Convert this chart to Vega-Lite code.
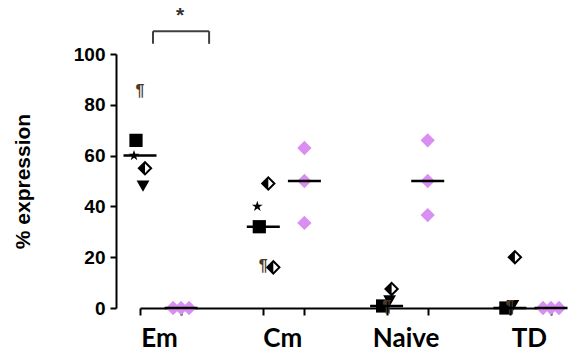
{
  "$schema": "https://vega.github.io/schema/vega-lite/v6.json",
  "width": 462,
  "height": 254,
  "autosize": {"type": "none"},
  "padding": {"left": 116, "top": 54, "right": 0, "bottom": 52},
  "background": "white",
  "config": {
    "view": {"stroke": null},
    "axis": {"domainColor": "black", "tickColor": "black", "domainWidth": 2, "tickWidth": 2, "labelColor": "black", "titleColor": "black", "grid": false}
  },
  "data": {
    "values": [
      {"group": "Em", "col": "Em|b", "donor": "A", "value": 85},
      {"group": "Em", "col": "Em|b", "donor": "B", "value": 66},
      {"group": "Em", "col": "Em|b", "donor": "C", "value": 60},
      {"group": "Em", "col": "Em|b", "donor": "D", "value": 55},
      {"group": "Em", "col": "Em|b", "donor": "E", "value": 48},
      {"group": "Em", "col": "Em|p", "donor": "P1", "value": 0},
      {"group": "Em", "col": "Em|p", "donor": "P2", "value": 0},
      {"group": "Em", "col": "Em|p", "donor": "P3", "value": 0},
      {"group": "Cm", "col": "Cm|b", "donor": "A", "value": 16},
      {"group": "Cm", "col": "Cm|b", "donor": "B", "value": 32},
      {"group": "Cm", "col": "Cm|b", "donor": "C", "value": 40},
      {"group": "Cm", "col": "Cm|b", "donor": "D", "value": 49},
      {"group": "Cm", "col": "Cm|b", "donor": "F", "value": 16},
      {"group": "Cm", "col": "Cm|p", "donor": "P1", "value": 63},
      {"group": "Cm", "col": "Cm|p", "donor": "P2", "value": 50},
      {"group": "Cm", "col": "Cm|p", "donor": "P3", "value": 33.5},
      {"group": "Naive", "col": "Naive|b", "donor": "A", "value": 0},
      {"group": "Naive", "col": "Naive|b", "donor": "B", "value": 0.8},
      {"group": "Naive", "col": "Naive|b", "donor": "C", "value": 0.5},
      {"group": "Naive", "col": "Naive|b", "donor": "D", "value": 7.5},
      {"group": "Naive", "col": "Naive|b", "donor": "E", "value": 2.8},
      {"group": "Naive", "col": "Naive|p", "donor": "P1", "value": 66},
      {"group": "Naive", "col": "Naive|p", "donor": "P2", "value": 50},
      {"group": "Naive", "col": "Naive|p", "donor": "P3", "value": 36.6},
      {"group": "TD", "col": "TD|b", "donor": "A", "value": 0},
      {"group": "TD", "col": "TD|b", "donor": "B", "value": 0},
      {"group": "TD", "col": "TD|b", "donor": "C", "value": 0},
      {"group": "TD", "col": "TD|b", "donor": "D", "value": 20},
      {"group": "TD", "col": "TD|b", "donor": "E", "value": 1},
      {"group": "TD", "col": "TD|p", "donor": "P1", "value": 0},
      {"group": "TD", "col": "TD|p", "donor": "P2", "value": 0},
      {"group": "TD", "col": "TD|p", "donor": "P3", "value": 0}
    ]
  },
  "encoding": {
    "x": {
      "field": "col", "type": "nominal", "title": null,
      "scale": {"type": "point", "padding": 0, "domain": ["Em|b", "Em|p", "gap1", "Cm|b", "Cm|p", "gap2", "Naive|b", "Naive|p", "gap3", "TD|b", "TD|p"], "range": [24, 435]},
      "axis": {
        "labelAngle": 0, "tickSize": 7, "labelFont": "Lato", "labelFontWeight": "bold", "labelFontSize": 26, "labelPadding": 10, "labelOverlap": false, "labelOffset": 19,
        "labelExpr": "indexof(datum.value, '|b') > 0 ? split(datum.value, '|')[0] : ''",
        "tickOpacity": {"condition": {"test": "indexof(datum.value, 'gap') == 0", "value": 0}, "value": 1}
      }
    },
    "y": {
      "field": "value", "type": "quantitative", "title": "% expression",
      "scale": {"domain": [0, 100], "nice": false, "zero": false},
      "axis": {"values": [0, 20, 40, 60, 80, 100], "tickSize": 6, "labelFont": "Liberation Sans", "labelFontWeight": "bold", "labelFontSize": 19, "labelPadding": 5, "titleFont": "Liberation Sans", "titleFontWeight": "bold", "titleFontSize": 21, "titlePadding": 40}
    }
  },
  "layer": [
    {
      "data": {"values": [{"col": "Em|b", "col2": "Em|p", "value": 109, "value2": 104}]},
      "mark": {"type": "rule", "color": "#404040", "strokeWidth": 2, "xOffset": 13, "x2Offset": 28},
      "encoding": {"x2": {"field": "col2"}}
    },
    {
      "data": {"values": [{"col": "Em|b", "col2": "Em|p", "value": 109, "value2": 104}]},
      "mark": {"type": "rule", "color": "#404040", "strokeWidth": 2, "xOffset": 13},
      "encoding": {"y2": {"field": "value2"}}
    },
    {
      "data": {"values": [{"col": "Em|p", "col2": "Em|p", "value": 109, "value2": 104}]},
      "mark": {"type": "rule", "color": "#404040", "strokeWidth": 2, "xOffset": 28},
      "encoding": {"y2": {"field": "value2"}}
    },
    {
      "data": {"values": [{"col": "Em|p", "value": 115, "mark": "*"}]},
      "mark": {"type": "text", "font": "Liberation Sans", "fontWeight": "bold", "fontSize": 21, "color": "#333333", "baseline": "middle", "dx": -1},
      "encoding": {"text": {"field": "mark"}}
    },
    {
      "transform": [{"filter": "indexof(datum.donor, 'P') == 0 && datum.value > 0"}],
      "mark": {"type": "point", "shape": "diamond", "filled": true, "size": 205, "color": "#D98EF2", "opacity": 1}
    },
    {
      "transform": [{"filter": "datum.donor == 'P1' && datum.value == 0"}],
      "mark": {"type": "point", "shape": "diamond", "filled": true, "size": 205, "color": "#D98EF2", "opacity": 1, "xOffset": -8}
    },
    {
      "transform": [{"filter": "datum.donor == 'P2' && datum.value == 0"}],
      "mark": {"type": "point", "shape": "diamond", "filled": true, "size": 205, "color": "#D98EF2", "opacity": 1}
    },
    {
      "transform": [{"filter": "datum.donor == 'P3' && datum.value == 0"}],
      "mark": {"type": "point", "shape": "diamond", "filled": true, "size": 205, "color": "#D98EF2", "opacity": 1, "xOffset": 8}
    },
    {
      "transform": [{"filter": "datum.donor == 'B'"}],
      "mark": {"type": "point", "shape": "square", "filled": true, "size": 175, "color": "black", "opacity": 1, "xOffset": -4}
    },
    {
      "transform": [{"filter": "datum.donor == 'C'"}],
      "mark": {"type": "point", "shape": "M0,-1L0.2245,-0.309L0.951,-0.309L0.363,0.118L0.588,0.809L0,0.382L-0.588,0.809L-0.363,0.118L-0.951,-0.309L-0.2245,-0.309Z", "filled": true, "size": 130, "color": "black", "opacity": 1, "xOffset": -6}
    },
    {
      "transform": [{"filter": "datum.donor == 'E'"}],
      "mark": {"type": "point", "shape": "M0,0.866L-1,-0.866L1,-0.866Z", "filled": true, "size": 165, "color": "black", "opacity": 1, "xOffset": 3}
    },
    {
      "transform": [{"filter": "datum.donor == 'D'"}],
      "mark": {"type": "point", "shape": "diamond", "filled": true, "size": 150, "fill": "white", "stroke": "black", "strokeWidth": 2, "opacity": 1, "xOffset": 5}
    },
    {
      "transform": [{"filter": "datum.donor == 'D'"}],
      "mark": {"type": "point", "shape": "M-1,0L0,-1L0,1Z", "filled": true, "size": 150, "color": "black", "opacity": 1, "xOffset": 5}
    },
    {
      "transform": [{"filter": "datum.donor == 'F'"}],
      "mark": {"type": "point", "shape": "diamond", "filled": true, "size": 150, "fill": "white", "stroke": "black", "strokeWidth": 2, "opacity": 1, "xOffset": 10}
    },
    {
      "transform": [{"filter": "datum.donor == 'F'"}],
      "mark": {"type": "point", "shape": "M-1,0L0,-1L0,1Z", "filled": true, "size": 150, "color": "black", "opacity": 1, "xOffset": 10}
    },
    {
      "transform": [{"filter": "datum.donor == 'A'"}],
      "mark": {"type": "text", "text": "¶", "font": "Liberation Sans", "fontWeight": "bold", "fontSize": 16, "color": "#4a3a2a", "baseline": "alphabetic", "dy": 4}
    },
    {
      "transform": [{"aggregate": [{"op": "median", "field": "value", "as": "value"}], "groupby": ["col"]}],
      "mark": {"type": "tick", "color": "black", "size": 33, "thickness": 2.5, "opacity": 1}
    }
  ]
}
